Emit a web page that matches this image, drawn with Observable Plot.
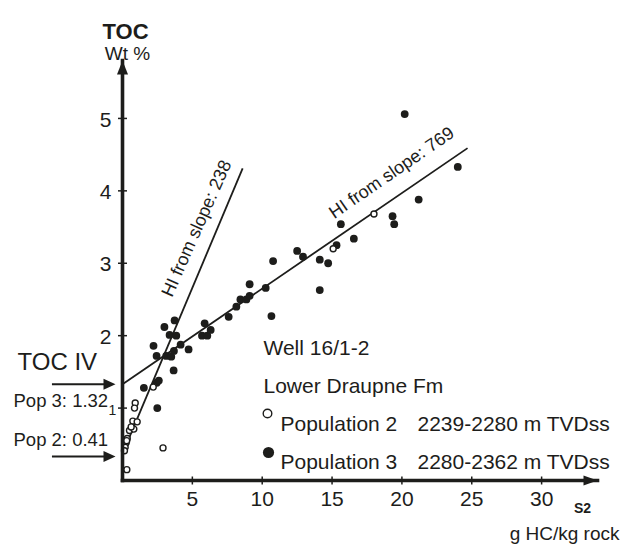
<!DOCTYPE html>
<html>
<head>
<meta charset="utf-8">
<script src="https://cdn.jsdelivr.net/npm/d3@7"></script>
<script src="https://cdn.jsdelivr.net/npm/@observablehq/plot@0.6"></script>
<style>
  body { margin: 0; background: #fff; }
  #chart { width: 636px; height: 552px; }
</style>
</head>
<body>
<div id="chart"></div>
<script>
// ---- Data ----
const pop3S2  = [3.0, 3.73, 3.37, 3.85, 2.22, 2.44, 3.13, 3.49, 3.68, 4.16, 4.73, 3.66, 1.53, 2.45, 2.6, 2.49,
                 5.69, 6.07, 5.88, 6.31, 7.6, 8.15, 8.44, 8.87, 9.1, 9.1, 10.25, 10.66, 10.78, 12.5, 12.92,
                 14.12, 14.72, 14.12, 15.32, 16.56, 20.2, 24.0, 21.2, 19.33, 19.45, 15.63];
const pop3TOC = [2.12, 2.21, 2.01, 2.0, 1.86, 1.72, 1.72, 1.71, 1.79, 1.875, 1.81, 1.52, 1.28, 1.35, 1.38, 1.0,
                 2.0, 2.0, 2.17, 2.08, 2.26, 2.40, 2.50, 2.50, 2.55, 2.71, 2.66, 2.27, 3.03, 3.17, 3.09,
                 3.05, 3.0, 2.63, 3.25, 3.34, 5.06, 4.33, 3.88, 3.65, 3.54, 3.54];
const pop2S2  = [0.91, 0.86, 0.74, 1.05, 0.5, 0.81, 0.62, 0.34, 0.26, 0.19, 0.14, 0.3, 2.9, 0.31, 2.2, 15.08, 18.0];
const pop2TOC = [1.07, 1.0, 0.82, 0.81, 0.69, 0.71, 0.74, 0.58, 0.52, 0.46, 0.41, 0.55, 0.45, 0.15, 1.29, 3.2, 3.68];

const hiLabels = ["HI from slope: 238", "HI from slope: 769"];
const hiStartS2  = [0, 0];
const hiStartTOC = [0.37, 1.33];
const hiEndS2    = [8.6, 24.7];
const hiEndTOC   = [4.31, 4.59];
const hiLabelS2  = [5.3, 19.26];
const hiLabelTOC = [3.48, 4.25];
const hiAngle    = [-66, -34.5];

const xTicks = [5, 10, 15, 20, 25, 30];
const yTicks = [1, 2, 3, 4, 5];
const xMax = 34, yMax = 5.8;

const tocIVLabels = ["Pop 3: 1.32", "Pop 2: 0.41"];
const tocIVArrowY = [1.33, 0.33];

const legendNames  = ["Population 2", "Population 3"];
const legendDepths = ["2239-2280 m TVDss", "2280-2362 m TVDss"];

// ---- Build tables ----
const pop3 = pop3S2.map((s, i) => ({s2: s, toc: pop3TOC[i]}));
const pop2 = pop2S2.map((s, i) => ({s2: s, toc: pop2TOC[i]}));
const hiLines = hiLabels.map((l, i) => ({label: l, x1: hiStartS2[i], y1: hiStartTOC[i], x2: hiEndS2[i], y2: hiEndTOC[i],
  lx: hiLabelS2[i], ly: hiLabelTOC[i], angle: hiAngle[i]}));
const axes = [{x1: 0, y1: 0, x2: 0, y2: yMax}, {x1: 0, y1: 0, x2: xMax, y2: 0}];
const arrows = tocIVLabels.map((l, i) => ({label: l, y: tocIVArrowY[i]}));

// custom symbols
const tri = (len, half, dir) => ({
  draw(ctx) {
    if (dir === "up") { ctx.moveTo(0, 0); ctx.lineTo(-half, len); ctx.lineTo(half, len); }
    else { ctx.moveTo(0, 0); ctx.lineTo(-len, -half); ctx.lineTo(-len, half); }
    ctx.closePath();
  }
});
const vTick = {draw(ctx) { ctx.moveTo(0, -4); ctx.lineTo(0, 4); }};
const hTick = {draw(ctx) { ctx.moveTo(-4.5, 0); ctx.lineTo(4.5, 0); }};

const ink = "#1d1d1b";
const font = "'Liberation Sans', Arial, Helvetica, sans-serif";

const chart = Plot.plot({
  width: 636,
  height: 552,
  marginLeft: 122,
  marginRight: 39,
  marginTop: 60,
  marginBottom: 72,
  x: {domain: [0, xMax], axis: null},
  y: {domain: [0, yMax], axis: null},
  style: {fontFamily: font, background: "#fff", color: ink, overflow: "visible"},
  marks: [
    // regression lines
    Plot.link(hiLines, {x1: "x1", y1: "y1", x2: "x2", y2: "y2", stroke: ink, strokeWidth: 1.8}),
    Plot.text(hiLines, {x: "lx", y: "ly", text: "label", rotate: "angle", fontSize: 18, fill: ink}),
    // points
    Plot.dot(pop3, {x: "s2", y: "toc", r: 3.9, fill: ink, stroke: "none"}),
    Plot.dot(pop2, {x: "s2", y: "toc", r: 3, fill: "#fff", stroke: ink, strokeWidth: 1.4}),
    // axes
    Plot.link(axes, {x1: "x1", y1: "y1", x2: "x2", y2: "y2", stroke: ink, strokeWidth: 3.6, strokeLinecap: "square"}),
    Plot.dot([{x: 0, y: yMax}], {x: "x", y: "y", symbol: tri(14, 5.5, "up"), fill: ink, stroke: "none"}),
    Plot.dot([{x: xMax, y: 0}], {x: "x", y: "y", symbol: tri(14, 5, "right"), fill: ink, stroke: "none"}),
    Plot.dot(xTicks, {x: d => d, y: 0, symbol: vTick, fill: "none", stroke: ink, strokeWidth: 1.5}),
    Plot.dot(yTicks, {x: 0, y: d => d, symbol: hTick, fill: "none", stroke: ink, strokeWidth: 1.5}),
    Plot.text(xTicks, {x: d => d, y: 0, dy: 19, text: d => String(d), fontSize: 21, fill: ink}),
    Plot.text(yTicks.slice(1), {x: 0, y: d => d, dx: -11, dy: 1.5, text: d => String(d), textAnchor: "end", fontSize: 21, fill: ink}),
    Plot.text(yTicks.slice(0, 1), {x: 0, y: d => d, dx: -10, dy: 2, text: d => String(d), textAnchor: "middle", fontSize: 14, fill: ink}),
    // axis titles
    Plot.text(["TOC"], {frameAnchor: "top-left", dx: 3, dy: -37, text: d => d, textAnchor: "middle", fontSize: 22, fontWeight: "bold", fill: ink}),
    Plot.text(["Wt %"], {frameAnchor: "top-left", dx: 5, dy: -14, text: d => d, textAnchor: "middle", fontSize: 19, fill: ink}),
    Plot.text(["S2"], {frameAnchor: "bottom-right", dx: -15, dy: 32, text: d => d, textAnchor: "middle", fontSize: 14, fontWeight: "bold", fill: ink}),
    Plot.text(["g HC/kg rock"], {frameAnchor: "bottom-right", dx: 22, dy: 59, text: d => d, textAnchor: "end", fontSize: 19, fill: ink}),
    // TOC IV annotation
    Plot.text(["TOC IV"], {x: 0, y: tocIVArrowY[0], dx: -105, dy: -22, text: d => d, textAnchor: "start", fontSize: 24, fill: ink}),
    Plot.link(arrows, {x1: -5.05, x2: -1.2, y1: "y", y2: "y", stroke: ink, strokeWidth: 2}),
    Plot.dot(arrows, {x: -0.5, y: "y", symbol: tri(12, 5.5, "right"), fill: ink, stroke: "none"}),
    Plot.text(arrows.slice(0, 1), {x: 0, y: "y", dx: -109, dy: 17, text: "label", textAnchor: "start", fontSize: 18.5, fill: ink}),
    Plot.text(arrows.slice(1), {x: 0, y: "y", dx: -109, dy: -17, text: "label", textAnchor: "start", fontSize: 18.5, fill: ink}),
    // legend block
    Plot.text(["Well 16/1-2"], {frameAnchor: "top-left", dx: 141, dy: 280, text: d => d, textAnchor: "start", fontSize: 21, fill: ink}),
    Plot.text(["Lower Draupne Fm"], {frameAnchor: "top-left", dx: 141, dy: 318, text: d => d, textAnchor: "start", fontSize: 21, fill: ink}),
    Plot.dot([legendNames[0]], {frameAnchor: "top-left", dx: 145, dy: 353, r: 4.3, fill: "#fff", stroke: ink, strokeWidth: 1.4}),
    Plot.dot([legendNames[1]], {frameAnchor: "top-left", dx: 146, dy: 392, r: 5.6, fill: ink, stroke: "none"}),
    Plot.text([legendNames[0]], {frameAnchor: "top-left", dx: 158, dy: 356, text: d => d, textAnchor: "start", fontSize: 21, fill: ink}),
    Plot.text([legendNames[1]], {frameAnchor: "top-left", dx: 158, dy: 394, text: d => d, textAnchor: "start", fontSize: 21, fill: ink}),
    Plot.text([legendDepths[0]], {frameAnchor: "top-left", dx: 295, dy: 356, text: d => d, textAnchor: "start", fontSize: 21, fill: ink}),
    Plot.text([legendDepths[1]], {frameAnchor: "top-left", dx: 295, dy: 394, text: d => d, textAnchor: "start", fontSize: 21, fill: ink})
  ]
});
document.getElementById("chart").appendChild(chart);
</script>
</body>
</html>
